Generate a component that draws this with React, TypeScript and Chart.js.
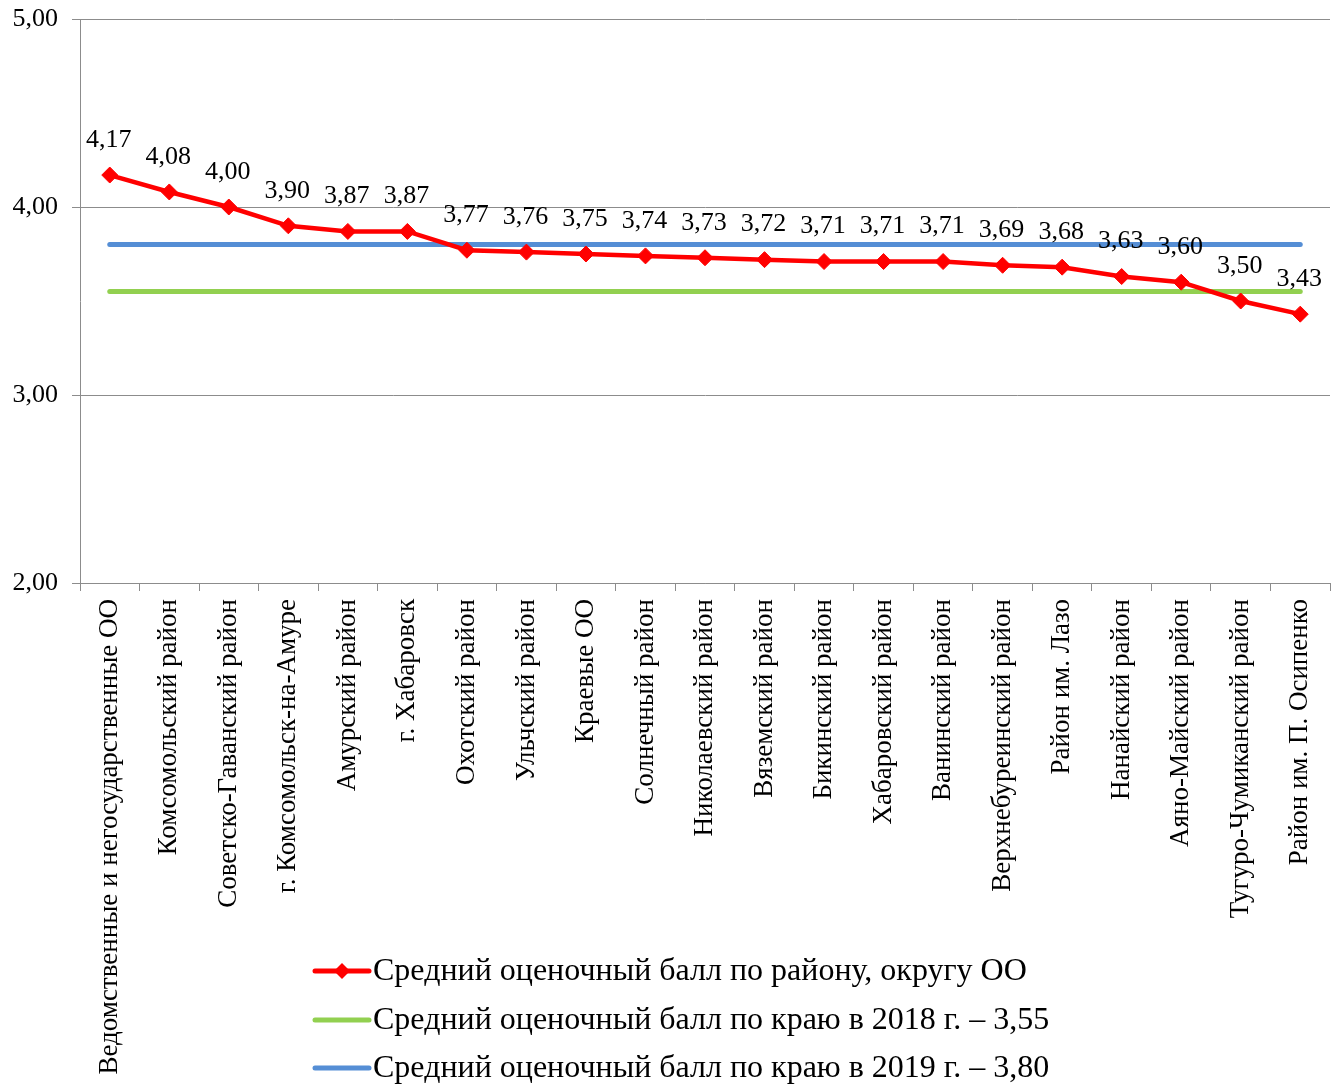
import React, { useEffect, useRef } from "react";
import { Chart, registerables } from "chart.js";

Chart.register(...registerables);

const categories = [
  "Ведомственные и негосударственные ОО",
  "Комсомольский район",
  "Советско-Гаванский район",
  "г. Комсомольск-на-Амуре",
  "Амурский район",
  "г. Хабаровск",
  "Охотский район",
  "Ульчский район",
  "Краевые ОО",
  "Солнечный район",
  "Николаевский район",
  "Вяземский район",
  "Бикинский район",
  "Хабаровский район",
  "Ванинский район",
  "Верхнебуреинский район",
  "Район им. Лазо",
  "Нанайский район",
  "Аяно-Майский район",
  "Тугуро-Чумиканский район",
  "Район им. П. Осипенко",
];

const districtScores = [
  4.17, 4.08, 4.0, 3.9, 3.87, 3.87, 3.77, 3.76, 3.75, 3.74, 3.73, 3.72, 3.71,
  3.71, 3.71, 3.69, 3.68, 3.63, 3.6, 3.5, 3.43,
];

const avg2018 = 3.55;
const avg2019 = 3.8;

const seriesNames = [
  "Средний оценочный балл по району, округу ОО",
  "Средний оценочный балл по краю в 2018 г. – 3,55",
  "Средний оценочный балл по краю в 2019 г. – 3,80",
];

const yTicks = [2, 3, 4, 5];

const RED = "#ff0000";
const GREEN = "#92d050";
const BLUE = "#558ed5";
const GRID = "#8c8c8c";
const FONT = "'Liberation Serif', 'Times New Roman', serif";

const fmt = (v: number) => v.toFixed(2).replace(".", ",");

const dataLabelPlugin = {
  id: "dataLabels",
  afterDatasetsDraw(chart: any) {
    const ctx = chart.ctx;
    const meta = chart.getDatasetMeta(0);
    ctx.save();
    ctx.font = `26px ${FONT}`;
    ctx.fillStyle = "#000";
    ctx.textAlign = "center";
    ctx.textBaseline = "middle";
    meta.data.forEach((pt: any, i: number) => {
      ctx.fillText(fmt(districtScores[i]), pt.x - 1, pt.y - 35);
    });
    ctx.restore();
  },
};

const legendPlugin = {
  id: "customLegend",
  afterDraw(chart: any) {
    const ctx = chart.ctx;
    const colors = [RED, GREEN, BLUE];
    const x0 = 315;
    const rows = [971, 1020, 1068];
    ctx.save();
    ctx.font = `32px ${FONT}`;
    ctx.textBaseline = "middle";
    ctx.textAlign = "left";
    seriesNames.forEach((name, i) => {
      const y = rows[i];
      ctx.strokeStyle = colors[i];
      ctx.lineWidth = 5;
      ctx.lineCap = "round";
      ctx.beginPath();
      ctx.moveTo(x0, y);
      ctx.lineTo(x0 + 54, y);
      ctx.stroke();
      if (i === 0) {
        ctx.fillStyle = RED;
        ctx.beginPath();
        const cx = x0 + 27;
        ctx.moveTo(cx, y - 8);
        ctx.lineTo(cx + 8, y);
        ctx.lineTo(cx, y + 8);
        ctx.lineTo(cx - 8, y);
        ctx.closePath();
        ctx.fill();
      }
      ctx.fillStyle = "#000";
      ctx.fillText(name, x0 + 58, y + 1);
    });
    ctx.restore();
  },
};

export default function App() {
  const ref = useRef<HTMLCanvasElement | null>(null);

  useEffect(() => {
    if (!ref.current) return;
    const chart = new Chart(ref.current, {
      type: "line",
      data: {
        labels: categories,
        datasets: [
          {
            label: seriesNames[0],
            data: districtScores,
            borderColor: RED,
            backgroundColor: RED,
            borderWidth: 4.5,
            pointStyle: "rectRot",
            pointRadius: 8,
            pointBackgroundColor: RED,
            pointBorderColor: RED,
            pointBorderWidth: 1,
            tension: 0,
            order: 0,
          },
          {
            label: seriesNames[1],
            data: categories.map(() => avg2018),
            borderColor: GREEN,
            borderWidth: 5,
            borderCapStyle: "round",
            pointRadius: 0,
            order: 2,
          },
          {
            label: seriesNames[2],
            data: categories.map(() => avg2019),
            borderColor: BLUE,
            borderWidth: 5,
            borderCapStyle: "round",
            pointRadius: 0,
            order: 1,
          },
        ],
      },
      options: {
        animation: false,
        responsive: false,
        layout: { padding: { top: 19, right: 12, left: 0, bottom: 0 } },
        plugins: {
          legend: { display: false },
          tooltip: { enabled: false },
        },
        scales: {
          x: {
            offset: true,
            grid: {
              offset: true,
              drawOnChartArea: false,
              drawTicks: true,
              tickLength: 8,
              color: GRID,
            },
            border: { display: true, color: GRID, width: 1 },
            ticks: {
              autoSkip: false,
              minRotation: 90,
              maxRotation: 90,
              padding: 8,
              color: "#000",
              font: { family: FONT, size: 27 },
            },
            afterFit(scale: any) {
              scale.height = 1088 - 583;
              scale.paddingLeft = 0;
              scale.paddingRight = 0;
            },
          },
          y: {
            min: 2,
            max: 5,
            afterBuildTicks(scale: any) {
              scale.ticks = yTicks.map((v) => ({ value: v }));
            },
            grid: {
              color: GRID,
              tickLength: 8,
              lineWidth: 1,
            },
            border: { display: true, color: GRID, width: 1 },
            ticks: {
              padding: 14,
              color: "#000",
              font: { family: FONT, size: 26 },
              callback: (v: any) => fmt(Number(v)),
            },
            afterFit(scale: any) {
              scale.width = 80;
              scale.paddingTop = 0;
              scale.paddingBottom = 0;
            },
          },
        },
      },
      plugins: [dataLabelPlugin, legendPlugin],
    });
    return () => chart.destroy();
  }, []);

  return (
    <div style={{ position: "fixed", left: 0, top: 0, width: 1342, height: 1088, background: "#fff" }}>
      <canvas ref={ref} width={1342} height={1088} style={{ width: 1342, height: 1088 }} />
    </div>
  );
}
